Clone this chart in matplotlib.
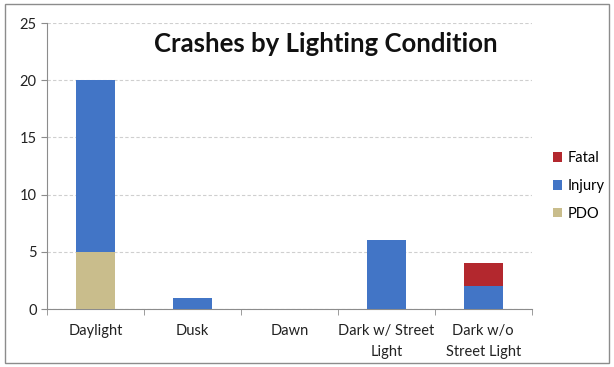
import numpy as np
import matplotlib.pyplot as plt
from matplotlib.patches import Rectangle

plt.rcParams['font.family'] = ['Lato', 'DejaVu Sans']

# Crash counts by lighting condition
categorias = ['Daylight', 'Dusk', 'Dawn', 'Dark w/ Street\nLight', 'Dark w/o\nStreet Light']
pdo = [5, 0, 0, 0, 0]
injury = [15, 1, 0, 6, 2]
fatal = [0, 0, 0, 0, 2]

cor_pdo = '#C9BD8C'
cor_injury = '#4275C6'
cor_fatal = '#B3282E'

fig = plt.figure(figsize=(6.14, 3.67), dpi=100)
fig.patches.append(Rectangle((0.008, 0.012), 0.984, 0.976, transform=fig.transFigure,
                             fill=False, edgecolor='#8C8C8C', linewidth=1.0))

ax = fig.add_axes([0.0765, 0.158, 0.7895, 0.779])
x = np.arange(len(categorias))
largura = 0.4

base_injury = np.array(pdo)
base_fatal = base_injury + np.array(injury)
ax.bar(x, pdo, largura, color=cor_pdo, label='PDO', zorder=3)
ax.bar(x, injury, largura, bottom=base_injury, color=cor_injury, label='Injury', zorder=3)
ax.bar(x, fatal, largura, bottom=base_fatal, color=cor_fatal, label='Fatal', zorder=3)

ax.set_xlim(-0.5, len(categorias) - 0.5)
ax.set_ylim(0, 25)
ax.set_yticks(range(0, 26, 5))
ax.yaxis.grid(True, color='#CFCFCF', linestyle=(0, (3, 2)), linewidth=0.8, zorder=0)

# tick marks between categories, labels centered under bars
ax.set_xticks(x)
ax.set_xticklabels(categorias, fontsize=10.5, color='#222222', linespacing=1.6)
ax.tick_params(axis='x', length=0, pad=11)
ax.set_xticks(np.arange(-0.5, len(categorias), 1.0), minor=True)
ax.tick_params(axis='x', which='minor', length=4, color='#8C8C8C', direction='out')
ax.tick_params(axis='y', labelsize=10.5, colors='#222222', length=4, direction='out')
ax.tick_params(axis='y', color='#8C8C8C')

for lado in ['top', 'right']:
    ax.spines[lado].set_visible(False)
ax.spines['left'].set_color('#8C8C8C')
ax.spines['bottom'].set_color('#8C8C8C')

fig.text(0.53, 0.88, 'Crashes by Lighting Condition', ha='center', va='center',
         fontsize=18.5, fontweight='bold', color='#111111')

handles, labels = ax.get_legend_handles_labels()
fig.legend(handles[::-1], labels[::-1], loc='center left', bbox_to_anchor=(0.88, 0.493),
           frameon=False, fontsize=10.5, handlelength=0.6, handleheight=0.6,
           handletextpad=0.4, labelspacing=0.95)

fig.savefig('out.png', dpi=100)
